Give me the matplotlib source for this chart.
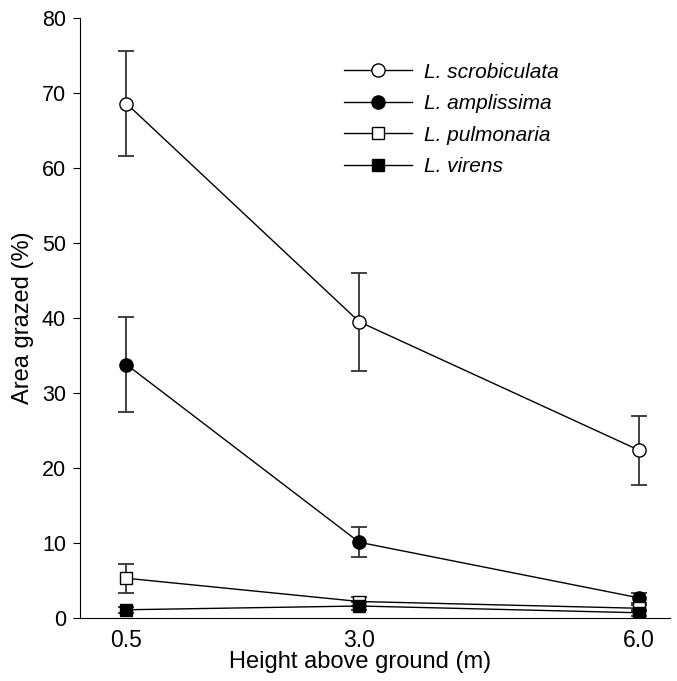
import matplotlib.pyplot as plt

plt.rcParams['font.family'] = ['Liberation Sans', 'DejaVu Sans']

heights = [0.5, 3.0, 6.0]

scrob = [68.6, 39.5, 22.4]
scrob_err = [7.0, 6.5, 4.6]
ampl = [33.8, 10.1, 2.7]
ampl_err = [6.3, 2.0, 0.7]
pulm = [5.3, 2.2, 1.3]
pulm_err = [1.9, 0.6, 0.4]
vir = [1.1, 1.6, 0.7]
vir_err = [0.4, 0.5, 0.4]

series = [
    ('L. scrobiculata', scrob, scrob_err, 'o', 'white'),
    ('L. amplissima', ampl, ampl_err, 'o', 'black'),
    ('L. pulmonaria', pulm, pulm_err, 's', 'white'),
    ('L. virens', vir, vir_err, 's', 'black'),
]

fig = plt.figure(figsize=(6.77, 6.81), dpi=100)
ax = fig.add_axes([0.118, 0.0925, 0.872, 0.881])

for name, y, err, m, fc in series:
    ax.errorbar(heights, y, yerr=err, fmt='none', ecolor='#333333',
                elinewidth=1.3, capsize=5.5, capthick=1.3, zorder=2)
    ms = 9.5 if m == 'o' else 8
    ax.plot(heights, y, color='black', lw=1, marker=m, markersize=ms,
            markerfacecolor=fc, markeredgecolor='black', markeredgewidth=1,
            label=name, zorder=3)

ax.set_xlim(0, 6.34)
ax.set_ylim(0, 80)
ax.set_xticks(heights)
ax.set_xticklabels(['0.5', '3.0', '6.0'])
ax.set_yticks(range(0, 81, 10))
ax.spines['top'].set_visible(False)
ax.spines['right'].set_visible(False)
ax.tick_params(axis='x', length=0, pad=8, labelsize=16.5)
ax.tick_params(axis='y', direction='out', length=5, pad=5, labelsize=15.5)
ax.set_xlabel('Height above ground (m)', fontsize=17)
ax.xaxis.set_label_coords(0.475, -0.074, transform=ax.transAxes)
ax.xaxis.label.set_va('center')
ax.set_ylabel('Area grazed (%)', fontsize=17, labelpad=6)

leg = ax.legend(loc='upper left', bbox_to_anchor=(0.415, 0.957), frameon=False,
                handlelength=3.3, handletextpad=0.55, labelspacing=0.6,
                prop={'style': 'italic', 'size': 15})

plt.savefig('out.png', dpi=100)
